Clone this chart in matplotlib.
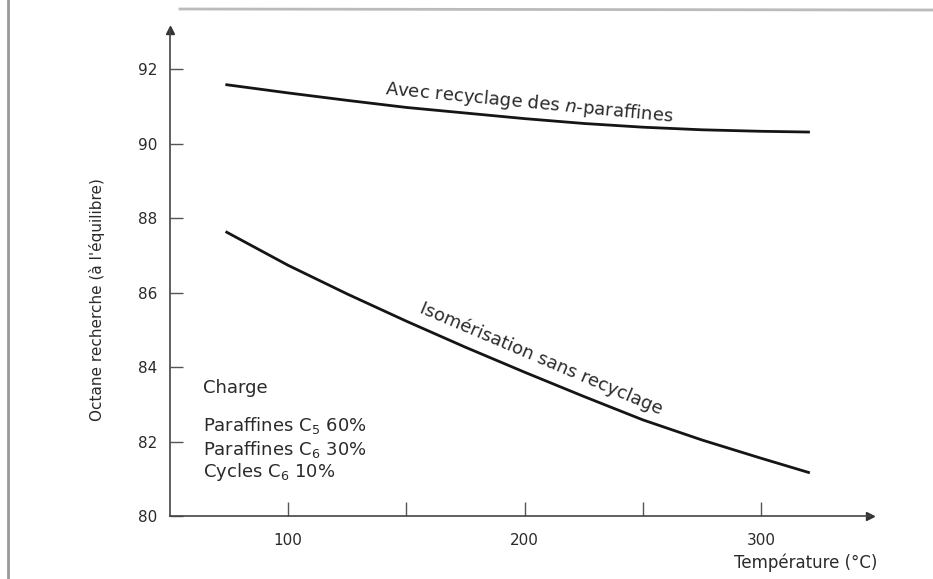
import matplotlib
matplotlib.use("Agg")
import matplotlib.pyplot as plt
from matplotlib.lines import Line2D

# values
temp = [74, 100, 125, 150, 175, 200, 225, 250, 275, 300, 320]
avec_recyclage = [91.58, 91.36, 91.16, 90.97, 90.82, 90.67, 90.54, 90.44, 90.37, 90.33, 90.31]
sans_recyclage = [87.62, 86.73, 85.96, 85.23, 84.53, 83.86, 83.21, 82.58, 82.04, 81.55, 81.17]

yticks = [80, 82, 84, 86, 88, 90, 92]
xticks = [100, 150, 200, 250, 300]
xticklabels = ["100", "", "200", "", "300"]

label_avec = "Avec recyclage des $\\mathit{n}$-paraffines"
label_sans = "Isomérisation sans recyclage"
charge_lines = ["Charge", "Paraffines C$_5$ 60%", "Paraffines C$_6$ 30%", "Cycles C$_6$ 10%"]

plt.rcParams['font.family'] = ['DejaVu Sans']
plt.rcParams['mathtext.fontset'] = 'dejavusans'

txt = '#2a2a2a'
fig = plt.figure(figsize=(9.33, 5.79), dpi=100)
ax = fig.add_axes([170 / 933, 63 / 579, 700 / 933, 486 / 579])
ax.set_xlim(50, 346)
ax.set_ylim(80, 93.05)

ax.plot(temp, avec_recyclage, color='#151515', lw=2.0)
ax.plot(temp, sans_recyclage, color='#151515', lw=2.0)

for s in ['top', 'right']:
    ax.spines[s].set_visible(False)
for s in ['left', 'bottom']:
    ax.spines[s].set_color('#444444')
    ax.spines[s].set_linewidth(1.2)

# arrow heads on the axes
ax.plot(1, 0, '>', color='#333333', ms=6, transform=ax.transAxes, clip_on=False)
ax.plot(0, 1, '^', color='#333333', ms=6, transform=ax.transAxes, clip_on=False)

ax.set_yticks(yticks)
ax.set_xticks(xticks)
ax.set_xticklabels(xticklabels)
ax.tick_params(axis='y', direction='in', length=9, width=1, color='#555555',
               labelsize=11, labelcolor=txt, pad=9)
ax.tick_params(axis='x', direction='in', length=10, width=1, color='#555555',
               labelsize=11, labelcolor=txt, pad=12)

ax.text(202, 91.1, label_avec, rotation=-5.5, ha='center', va='center',
        fontsize=13, color=txt)
ax.text(207, 84.22, label_sans, rotation=-23, ha='center', va='center',
        fontsize=13, color=txt)

ys = [388, 425, 450, 472]
for t, y in zip(charge_lines, ys):
    fig.text(203 / 933, 1 - y / 579, t, ha='left', va='center', fontsize=13, color=txt)

fig.text(97 / 933, 1 - 300 / 579, "Octane recherche (à l'équilibre)", rotation=90,
         ha='center', va='center', fontsize=11, color=txt)
fig.text(877 / 933, 1 - 563 / 579, "Température (°C)", ha='right', va='center',
         fontsize=12, color=txt)

# scan edges
fig.add_artist(Line2D([8 / 933, 8 / 933], [0, 1], color='#999999', lw=2))
fig.add_artist(Line2D([180 / 933, 1], [1 - 9 / 579, 1 - 10 / 579], color='#bbbbbb', lw=2))

fig.savefig("out.png", dpi=100, facecolor='white')
